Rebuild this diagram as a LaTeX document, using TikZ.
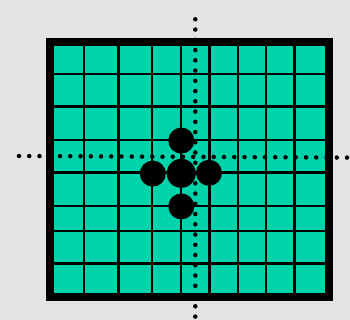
\documentclass[tikz,border=0pt]{standalone}
\usepackage{xcolor}
\usetikzlibrary{positioning}
\definecolor{boardgreen}{RGB}{0,210,170}
\definecolor{bggray}{RGB}{227,227,227}

\begin{document}
\begin{tikzpicture}[
x=1pt, y=-1pt,
gridline/.style={line width=2.4pt, draw=black},
disc/.style={circle, fill=black, inner sep=0pt, minimum size=26pt},
bigdisc/.style={disc, minimum size=29pt},
dotline/.style={line width=4.5pt, line cap=round, dash pattern=on 0pt off 10.25pt}
]

\fill[bggray] (0,0) rectangle (350,320);
\useasboundingbox (0,0) rectangle (350,320);

% board
\fill[black] (46,37.7) rectangle (333,301);
\fill[boardgreen] (54,46) rectangle (325,292.7);
\foreach \x in {84,118.3,151.8,181,209.3,237.7,266,294.3}
  \draw[gridline] (\x,46) -- (\x,292.7);
\foreach \y in {74.3,106.7,140,172.5,205.8,231,263.5}
  \draw[gridline] (54,\y) -- (325,\y);

% discs
\node[bigdisc] (mid) at (181.2,173.3) {};
\node[disc] (up) at (181.3,140.6) {};
\node[disc] (down) at (181.3,206.4) {};
\node[disc] (left) at (152.8,173.6) {};
\node[disc] (right) at (209,172.8) {};

% dotted lines
\coordinate (vtop) at (195.3,19.3);
\coordinate (vbot) at (195.3,318);
\coordinate (hleft) at (19,156);
\coordinate (hright) at (348,157.6);
\draw[dotline] (vtop) -- (vbot);
\draw[dotline] (hleft) -- (hright);

\end{tikzpicture}
\end{document}
